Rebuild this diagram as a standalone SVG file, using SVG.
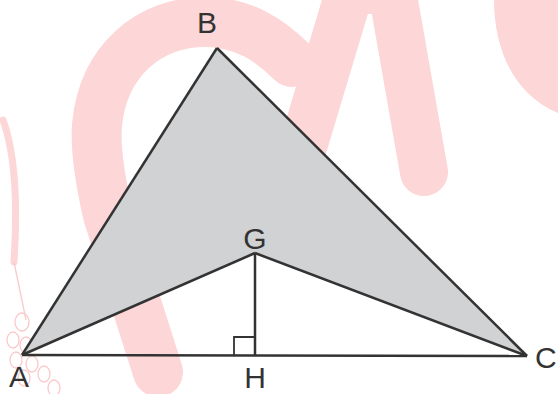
<svg xmlns="http://www.w3.org/2000/svg" width="558" height="394" viewBox="0 0 558 394">
  <style>
    .wm { fill: none; stroke: #fdd6d7; stroke-linecap: round; }
    .wmf { fill: #fdd6d7; stroke: none; }
    .edge { stroke: #333333; stroke-width: 2.5; fill: none; stroke-linejoin: miter; stroke-linecap: butt; }
    .thin { stroke: #333333; stroke-width: 1.8; fill: none; }
    .lbl { font-family: "Liberation Sans", Arial, sans-serif; font-size: 30px; fill: #333333; }
  </style>
  <rect width="558" height="394" fill="#ffffff"/>
  <g id="watermark">
    <path class="wm" stroke-width="50" d="M158,372 L108,215 C100,180 95,150 97,125 C103,60 150,22 205,22 C245,22 272,42 292,62"/>
    <path class="wm" stroke-width="48" d="M290,190 L350,-10 L392,-10 L424,172"/>
    <path class="wmf" d="M494,0 C494,52 516,96 558,113 L558,0 Z"/>
    <path class="wm" stroke-width="7" d="M3,120 C14,150 18,200 14,262"/>
    <g fill="none" stroke="#fbc9cb" stroke-width="1.3">
      <path d="M14,262 L26,320"/>
      <ellipse cx="22" cy="322" rx="7" ry="9"/>
      <ellipse cx="13" cy="340" rx="6" ry="8"/>
      <ellipse cx="26" cy="345" rx="6" ry="8"/>
      <ellipse cx="16" cy="360" rx="6" ry="8"/>
      <ellipse cx="32" cy="364" rx="6" ry="8"/>
      <ellipse cx="44" cy="374" rx="6" ry="8"/>
      <ellipse cx="24" cy="378" rx="6" ry="8"/>
      <ellipse cx="54" cy="388" rx="6" ry="8"/>
    </g>
  </g>
  <g id="region">
    <polygon points="22,355 217,48 527,356 255,253" fill="#d1d2d4" stroke="none"/>
  </g>
  <g id="connectors">
    <line class="edge" x1="22" y1="355" x2="217" y2="48"/>
    <line class="edge" x1="217" y1="48" x2="527" y2="356"/>
    <line class="edge" x1="22" y1="355" x2="527" y2="356"/>
    <line class="edge" x1="22" y1="355" x2="255" y2="253"/>
    <line class="edge" x1="255" y1="253" x2="527" y2="356"/>
    <line class="edge" x1="255" y1="253" x2="255" y2="355"/>
    <polyline class="thin" points="234,355 234,337 255,337"/>
  </g>
  <g id="node-A"><text class="lbl" x="19" y="387" text-anchor="middle">A</text></g>
  <g id="node-B"><text class="lbl" x="207" y="33" text-anchor="middle">B</text></g>
  <g id="node-C"><text class="lbl" x="535" y="368">C</text></g>
  <g id="node-G"><text class="lbl" x="255" y="249" text-anchor="middle">G</text></g>
  <g id="node-H"><text class="lbl" x="255" y="388" text-anchor="middle">H</text></g>
</svg>
